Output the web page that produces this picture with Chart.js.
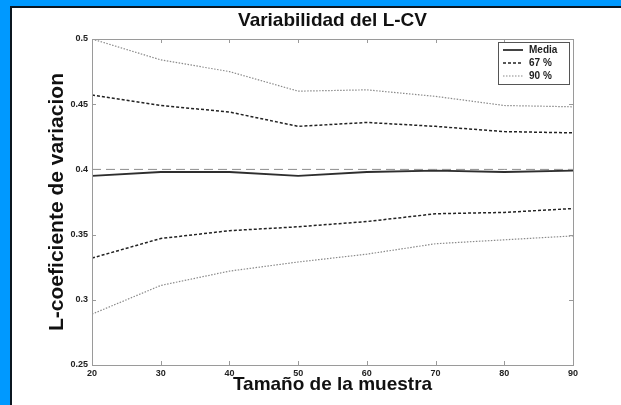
<!DOCTYPE html>
<html>
<head>
<meta charset="utf-8">
<script src="https://cdn.jsdelivr.net/npm/chart.js@4/dist/chart.umd.min.js"></script>
<style>
  html, body { margin: 0; padding: 0; background: #0099ff; overflow: hidden; }
  #panel {
    position: absolute; left: 10px; top: 6px; width: 611px; height: 399px;
    background: #fff; border-left: 2px solid #0b1620; border-top: 2px solid #0b1620;
  }
  #chart { position: absolute; left: 0; top: 0; }
</style>
</head>
<body>
<div id="panel"></div>
<canvas id="chart" width="621" height="405"></canvas>
<script>
// sample sizes
const sizes   = [20, 30, 40, 50, 60, 70, 80, 90];
const media   = [0.395, 0.398, 0.398, 0.395, 0.398, 0.399, 0.398, 0.399];
const up67    = [0.457, 0.449, 0.444, 0.433, 0.436, 0.433, 0.429, 0.428];
const low67   = [0.332, 0.347, 0.353, 0.356, 0.360, 0.366, 0.367, 0.370];
const up90    = [0.500, 0.484, 0.475, 0.460, 0.461, 0.456, 0.449, 0.448];
const low90   = [0.289, 0.311, 0.322, 0.329, 0.335, 0.343, 0.346, 0.349];
const refLine = [0.4, 0.4, 0.4, 0.4, 0.4, 0.4, 0.4, 0.4];
const yTicks  = [0.25, 0.3, 0.35, 0.4, 0.45, 0.5];

const legendItems = ['Media', '67 %', '90 %'];

const pts = arr => arr.map((v, i) => ({ x: sizes[i], y: v }));

const styles = {
    media: { color: '#2e2e2e', width: 1.8, dash: [] },
    p67  : { color: '#222', width: 1.5, dash: [3, 2] },
    p90  : { color: '#8a8a8a', width: 1.2, dash: [1.5, 1.5] },
    ref  : { color: '#8c8c8c', width: 1, dash: [9, 5] }
};

const line = (data, st, name) => ({
    label: name, data: pts(data), borderColor: st.color, borderWidth: st.width,
    borderDash: st.dash, pointRadius: 0, fill: false, tension: 0
});

const tickFont  = { family: "'Liberation Sans Narrow', 'Liberation Sans', Arial", size: 9, weight: 'bold' };
const labelFont = "'Liberation Sans', Arial";

// box around the plot area, inward ticks on all four sides, title and legend
const frame = {
    id: 'frame',
    afterDraw(chart) {
        const { ctx, chartArea: a, scales: { x, y } } = chart;
        ctx.save();
        ctx.strokeStyle = '#9a9a9a';
        ctx.lineWidth = 1;
        ctx.strokeRect(a.left + 0.5, a.top + 0.5, a.right - a.left, a.bottom - a.top);
        ctx.beginPath();
        sizes.forEach(v => {
            const px = Math.round(x.getPixelForValue(v)) + 0.5;
            ctx.moveTo(px, a.bottom); ctx.lineTo(px, a.bottom - 4);
            ctx.moveTo(px, a.top); ctx.lineTo(px, a.top + 4);
        });
        yTicks.forEach(v => {
            const py = Math.round(y.getPixelForValue(v)) + 0.5;
            ctx.moveTo(a.left, py); ctx.lineTo(a.left + 4, py);
            ctx.moveTo(a.right, py); ctx.lineTo(a.right - 4, py);
        });
        ctx.stroke();

        // title
        ctx.fillStyle = '#111';
        ctx.font = 'bold 19px ' + labelFont;
        ctx.textAlign = 'center';
        ctx.textBaseline = 'middle';
        ctx.fillText('Variabilidad del L-CV', (a.left + a.right) / 2, 21);

        // legend
        const bx = 498, by = 42, bw = 71, bh = 42;
        ctx.fillStyle = '#fff';
        ctx.fillRect(bx, by, bw, bh);
        ctx.strokeStyle = '#555';
        ctx.strokeRect(bx + 0.5, by + 0.5, bw, bh);
        const st = [styles.media, styles.p67, styles.p90];
        legendItems.forEach((t, i) => {
            const ly = by + 8 + i * 13;
            ctx.beginPath();
            ctx.strokeStyle = st[i].color;
            ctx.lineWidth = st[i].width;
            ctx.setLineDash(st[i].dash);
            ctx.moveTo(bx + 5, ly); ctx.lineTo(bx + 25, ly);
            ctx.stroke();
            ctx.setLineDash([]);
            ctx.fillStyle = '#222';
            ctx.font = 'bold 10px ' + labelFont;
            ctx.textAlign = 'left';
            ctx.fillText(t, bx + 31, ly + 0.5);
        });
        ctx.restore();
    }
};

new Chart(document.getElementById('chart'), {
    type: 'line',
    data: {
        datasets: [
            line(refLine, styles.ref, 'ref'),
            line(up90, styles.p90, '90 %'),
            line(low90, styles.p90, '90 % inf'),
            line(up67, styles.p67, '67 %'),
            line(low67, styles.p67, '67 % inf'),
            line(media, styles.media, 'Media')
        ]
    },
    options: {
        responsive: false,
        animation: false,
        layout: { padding: { left: 0, top: 39, right: 48, bottom: 0 } },
        plugins: { legend: { display: false }, title: { display: false }, tooltip: { enabled: false } },
        scales: {
            x: {
                type: 'linear', min: 20, max: 90,
                afterFit: s => { s.height = 40; },
                afterBuildTicks: s => { s.ticks = sizes.map(v => ({ value: v })); },
                grid: { display: false, drawTicks: false },
                border: { display: false },
                ticks: { color: '#222', font: tickFont, padding: 3, maxRotation: 0 },
                title: {
                    display: true, text: 'Tamaño de la muestra', color: '#111',
                    font: { family: labelFont, size: 19, weight: 'bold' },
                    padding: { top: 0, bottom: 9 }
                }
            },
            y: {
                min: 0.25, max: 0.5,
                afterFit: s => { s.width = 92; },
                afterBuildTicks: s => { s.ticks = yTicks.map(v => ({ value: v })); },
                grid: { display: false, drawTicks: false },
                border: { display: false },
                ticks: { color: '#222', font: tickFont, padding: 4, callback: v => String(v) },
                title: {
                    display: true, text: 'L-coeficiente de variacion', color: '#111',
                    font: { family: labelFont, size: 21, weight: 'bold' },
                    padding: { top: 45, bottom: 0 }
                }
            }
        }
    },
    plugins: [frame]
});
</script>
</body>
</html>
